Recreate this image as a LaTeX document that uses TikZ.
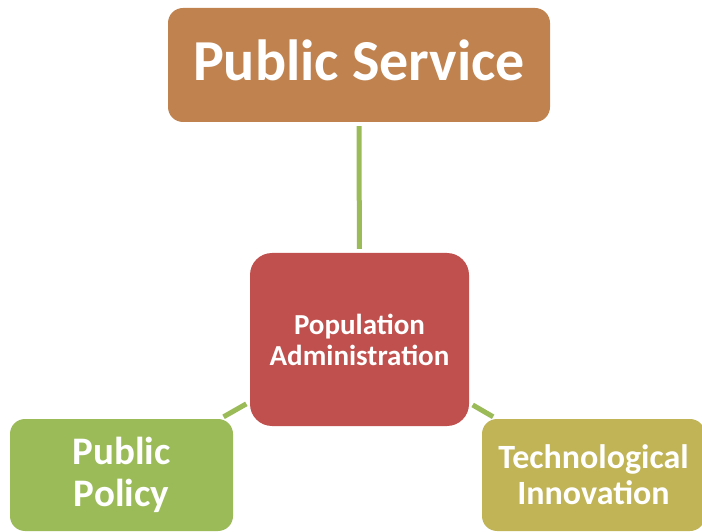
\documentclass[tikz,border=0pt]{standalone}
\usepackage{fontspec}
\setmainfont{Carlito}
\definecolor{servicebrown}{HTML}{C0834F}
\definecolor{adminred}{HTML}{C0504D}
\definecolor{policygreen}{HTML}{9BBB59}
\definecolor{techolive}{HTML}{C0B456}
\begin{document}
\begin{tikzpicture}[x=1pt,y=1pt,
		box/.style={rounded corners=15pt, inner sep=0pt, text=white, align=center},
		link/.style={draw=policygreen, line width=5pt, shorten <=4pt, shorten >=4pt}]
	\useasboundingbox (0,0) rectangle (702,531);
	
	% Nodes
	\node[box, fill=servicebrown, minimum width=382pt, minimum height=114pt, text depth=10pt,
		font=\fontsize{58}{66}\selectfont\bfseries] (service) at (359,466) {Public Service};
	
	\node[box, fill=adminred, rounded corners=22pt, minimum width=219pt, minimum height=173pt,
		font=\fontsize{29}{31}\selectfont\bfseries] (admin) at (359.5,191.5) {Population\\Administration};
	
	\node[box, fill=policygreen, minimum width=223pt, minimum height=112pt,
		font=\fontsize{39}{42}\selectfont\bfseries] (policy) at (121.5,56) {Public\\Policy};
	
	\node[box, fill=techolive, minimum width=223pt, minimum height=112pt,
		font=\fontsize{34}{36}\selectfont\bfseries] (tech) at (593.5,56) {Technological\\Innovation};
	
	% Links
	\draw[link] (service) -- (admin);
	\draw[link] (admin) -- (policy);
	\draw[link] (admin) -- (tech);
\end{tikzpicture}
\end{document}
